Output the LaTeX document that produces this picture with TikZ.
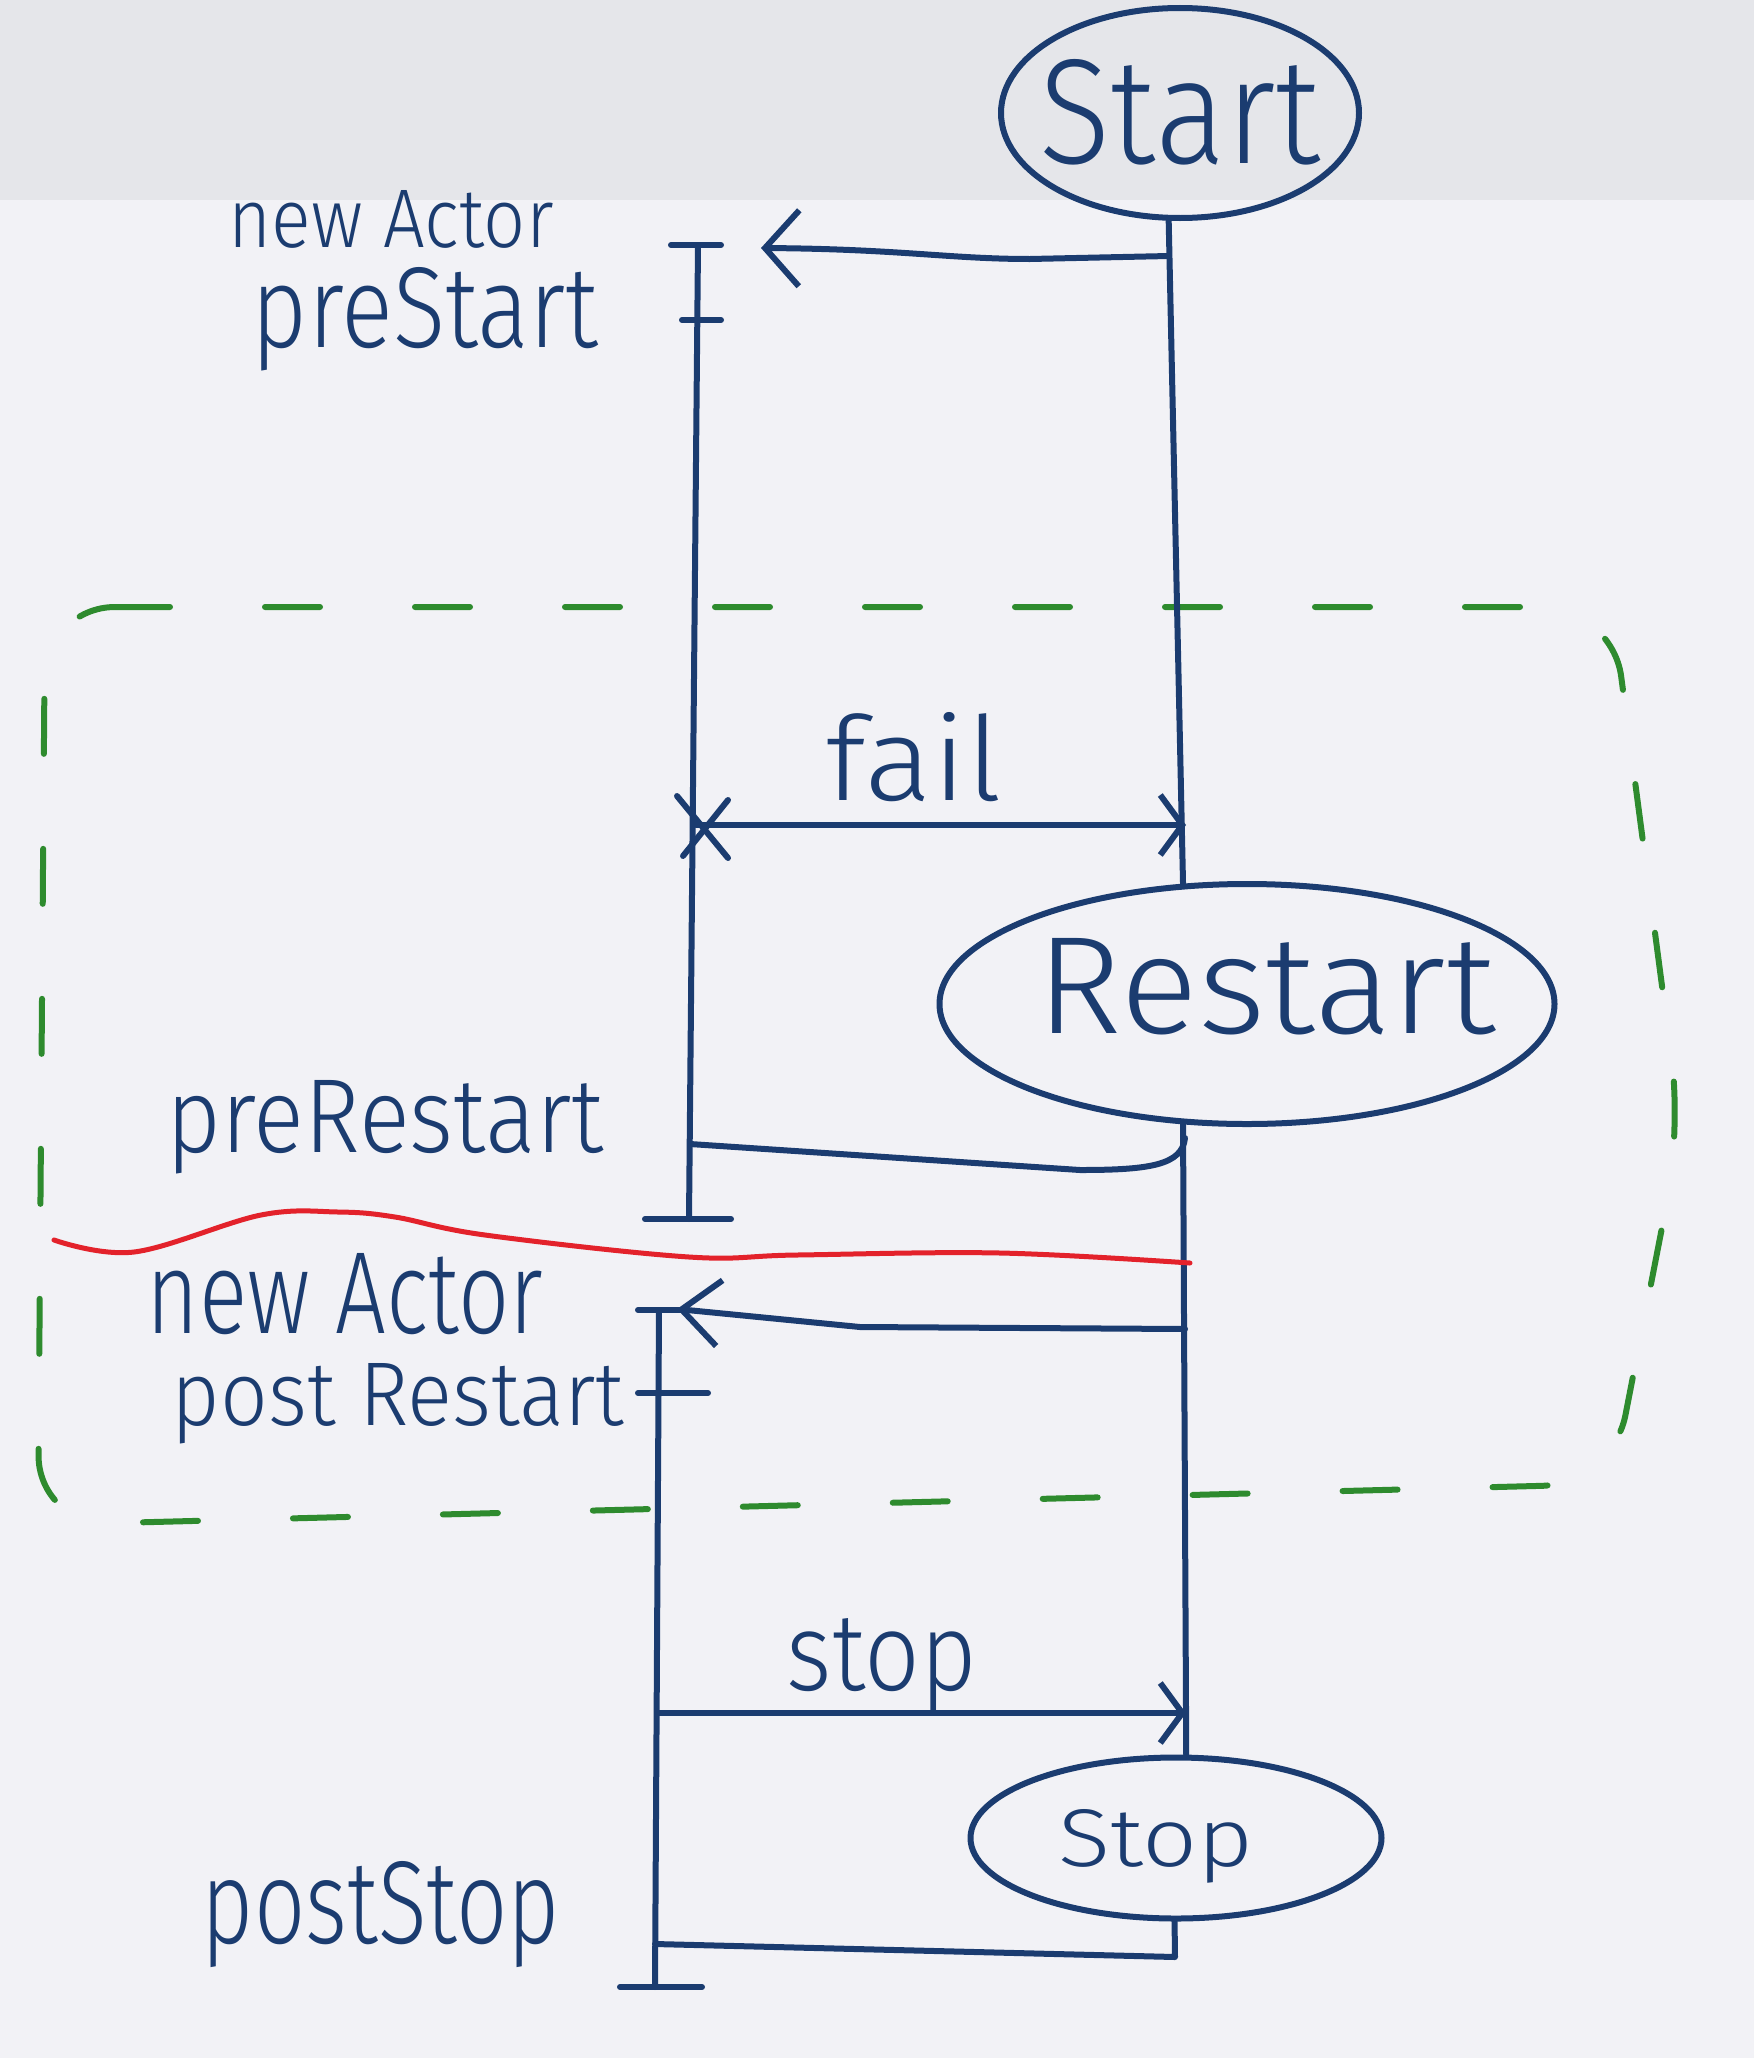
\documentclass[tikz,border=0pt]{standalone}
\usepackage{fontspec}
\usepackage{graphicx}
\usetikzlibrary{arrows.meta,shapes.geometric}
\newfontfamily\hand{Fira Sans Light}
\definecolor{ink}{HTML}{1B3C70}
\definecolor{dgreen}{HTML}{2E8B2E}
\definecolor{rline}{HTML}{E3222B}
\definecolor{bgtop}{HTML}{E5E6EA}
\definecolor{bgmain}{HTML}{F2F2F6}
\newcommand{\fitwh}[3]{\resizebox{#1}{#2}{#3}}
\tikzset{
  ink/.style={draw=ink, line width=6pt, line cap=round, line join=round},
  bubble/.style={ellipse, draw=ink, line width=6pt, inner sep=0pt},
  txt/.style={text=ink, inner sep=0pt, anchor=base, font=\hand},
  greendash/.style={draw=dgreen, line width=6pt, line cap=round, dash pattern=on 55pt off 95pt, rounded corners=70pt},
  redwave/.style={draw=rline, line width=5pt, line cap=round, line join=round},
  bigbarb/.style={-{Straight Barb[length=34pt,width=76pt]}},
  midbarb/.style={-{Straight Barb[length=38pt,width=66pt]}},
  smallbarb/.style={-{Straight Barb[length=22pt,width=60pt]}},
}
\begin{document}
\begin{tikzpicture}[x=1pt,y=-1pt]
\fill[bgmain] (0,0) rectangle (1754,2058);
\fill[bgtop] (0,0) rectangle (1754,200);
\useasboundingbox (0,0) rectangle (1754,2058);

% green dashed frame
\draw[greendash] (45,607) -- (1612,607) -- (1681,1130) -- (1612,1484) -- (38,1525) -- cycle;

% state bubbles
\node[bubble, minimum width=358pt, minimum height=210pt] (start) at (1180,113) {};
\node[txt] (starttxt) at (1180,163) {\fitwh{280pt}{104pt}{Start}};
\node[bubble, minimum width=615pt, minimum height=240pt] (restart) at (1247,1004) {};
\node[txt] (restarttxt) at (1266,1033) {\fitwh{459pt}{95pt}{Restart}};
\node[bubble, minimum width=411pt, minimum height=161pt] (stop) at (1176,1838) {};
\node[txt] (stoptxt) at (1156,1866) {\fitwh{195pt}{57pt}{Stop}};

% labels
\node[txt] (na1) at (391,247) {\fitwh{325pt}{57pt}{new Actor}};
\node[txt] (prestart) at (425,347) {\fitwh{346pt}{80pt}{preStart}};
\node[txt] (fail) at (914,800) {\fitwh{176pt}{88pt}{fail}};
\node[txt] (prerestart) at (385,1152) {\fitwh{437pt}{72pt}{preRestart}};
\node[txt] (na2) at (345,1333) {\fitwh{396pt}{80pt}{new Actor}};
\node[txt] (postrestart) at (398,1425) {\fitwh{452pt}{62pt}{post Restart}};
\node[txt] (stoplbl) at (882,1690) {\fitwh{190pt}{72pt}{stop}};
\node[txt] (poststop) at (381,1943) {\fitwh{358pt}{82pt}{postStop}};

% supervisor line
\draw[ink] (start.264) -- (restart.118);
\draw[ink] (restart.242) -- (stop.83);

% first actor lifeline
\coordinate (L1top) at (698,245);
\coordinate (L1tick) at (697,320);
\coordinate (L1bot) at (689,1219);
\draw[ink] (L1top) -- (L1bot);
\draw[ink] ([xshift=-27pt]L1top) -- ([xshift=23pt]L1top);
\draw[ink] ([xshift=-15pt]L1tick) -- ([xshift=24pt]L1tick);
\draw[ink] ([xshift=-44pt]L1bot) -- ([xshift=42pt]L1bot);

% new actor arrow
\coordinate (r1) at (1169,256);
\coordinate (tip1) at (761,248);
\draw[ink, bigbarb] (r1) -- (1030,259) .. controls (950,259) and (900,249) .. (tip1);

% fail
\coordinate (failL) at (696,825);
\coordinate (failR) at (1186,825);
\draw[ink, smallbarb] (failL) -- (failR);
\draw[ink] ([shift={(-19,-29)}]failL) -- ([shift={(32,33)}]failL);
\draw[ink] ([shift={(32,-25)}]failL) -- ([shift={(-13,31)}]failL);

% preRestart
\coordinate (prR) at (1185,1138);
\coordinate (prL) at (690,1144);
\draw[ink] (prR) .. controls (1182,1165) and (1150,1170) .. (1080,1170) -- (prL);

% red line
\draw[redwave] plot[smooth, tension=0.6] coordinates {(54,1240) (134,1252) (261,1215) (338,1212) (395,1217) (485,1235) (689,1257) (797,1255) (1000,1253) (1190,1263)};

% second actor
\coordinate (r2) at (1185,1329);
\coordinate (tip2) at (677,1309);
\draw[ink, midbarb] (r2) -- (860,1327) -- (tip2);
\coordinate (L2top) at (659,1310);
\coordinate (L2tick) at (658,1393);
\coordinate (L2bot) at (655,1987);
\draw[ink] (L2top) -- (L2bot);
\draw[ink] ([xshift=-21pt]L2top) -- ([xshift=23pt]L2top);
\draw[ink] ([xshift=-20pt]L2tick) -- ([xshift=50pt]L2tick);
\draw[ink] ([xshift=-35pt]L2bot) -- ([xshift=47pt]L2bot);

% stop
\coordinate (sL) at (657,1713);
\coordinate (sR) at (1186,1713);
\draw[ink, smallbarb] (sL) -- (sR);

% postStop
\coordinate (psL) at (655,1944);
\draw[ink] (stop.269) -- (1175,1957) -- (psL);
\end{tikzpicture}
\end{document}
